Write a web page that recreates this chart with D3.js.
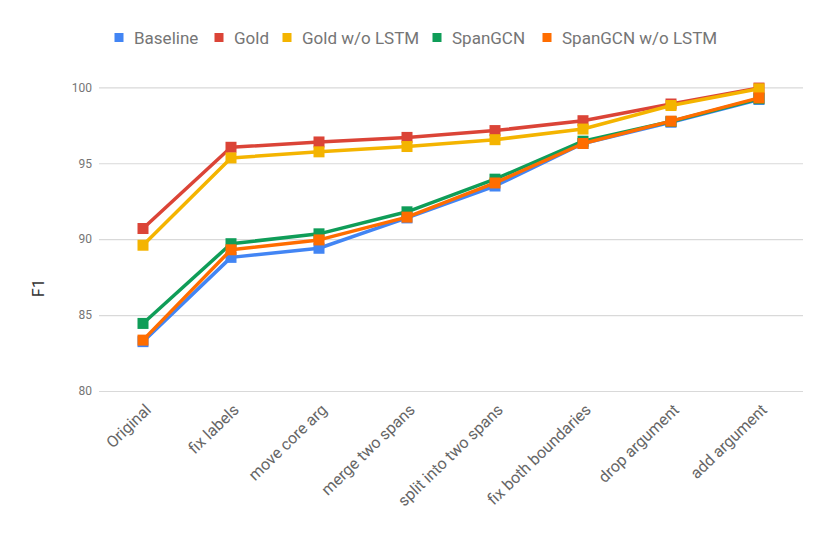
<!DOCTYPE html>
<html><head><meta charset="utf-8">
<script src="https://cdn.jsdelivr.net/npm/d3@7"></script>
<style>body{margin:0;background:#fff;font-family:Roboto,Arial,sans-serif}</style>
</head><body><svg id="c" width="830" height="536"></svg>
<script>
const categories = ["Original","fix labels","move core arg","merge two spans","split into two spans","fix both boundaries","drop argument","add argument"];
const seriesNames = ["Baseline","Gold","Gold w/o LSTM","SpanGCN","SpanGCN w/o LSTM"];
const baseline     = [83.25, 88.8, 89.4, 91.4, 93.5, 96.3, 97.7, 99.2];
const gold         = [90.7, 96.05, 96.4, 96.7, 97.15, 97.8, 98.9, 99.95];
const goldNoLSTM   = [89.6, 95.35, 95.75, 96.1, 96.55, 97.25, 98.8, 99.9];
const spanGCN      = [84.45, 89.7, 90.35, 91.8, 93.95, 96.45, 97.75, 99.25];
const spanGCNNoLSTM= [83.35, 89.3, 89.95, 91.45, 93.7, 96.3, 97.77, 99.3];
const colors = ["#4285F4","#DB4437","#F4B400","#0F9D58","#FF6D00"];
const yTicks = [80,85,90,95,100];

const data = [baseline, gold, goldNoLSTM, spanGCN, spanGCNNoLSTM];
const svg = d3.select("#c");
const x = d3.scaleBand().domain(categories).range([99, 803]);
const y = d3.scaleLinear().domain([80,100]).range([391, 87.3]);
const cx = c => x(c) + x.bandwidth()/2;

// gridlines
const yAxis = d3.axisLeft(y).tickValues(yTicks).tickSize(-(803-99)).tickPadding(7);
const gy = svg.append("g").attr("transform","translate(99,0)").call(yAxis);
gy.select(".domain").remove();
gy.selectAll(".tick line").attr("stroke","#d9d9d9").attr("stroke-width",1.2);
gy.selectAll(".tick text").attr("fill","#757575").style("font-size","12px").style("font-family","Roboto");

// x axis labels
const xAxis = d3.axisBottom(x).tickSize(0).tickPadding(0);
const gx = svg.append("g").attr("transform","translate(0,398)").call(xAxis);
gx.select(".domain").remove();
gx.selectAll(".tick text")
  .attr("fill","#666").style("font-size","16px").style("font-family","Roboto")
  .attr("text-anchor","end").attr("dy","0").attr("y",0)
  .attr("transform","translate(9,13) rotate(-44)");

// y title
svg.append("text").attr("transform","translate(44,288) rotate(-90)")
  .attr("text-anchor","middle").attr("fill","#333").style("font-size","16px").text("F1");

// series
const line = d3.line().x((d,i)=>cx(categories[i])).y(d=>y(d));
data.forEach((vals, si) => {
  const g = svg.append("g");
  g.append("path").datum(vals).attr("d", line).attr("fill","none")
    .attr("stroke", colors[si]).attr("stroke-width",3.5).attr("stroke-linejoin","round");
  g.selectAll("rect").data(vals).join("rect")
    .attr("x",(d,i)=>cx(categories[i])-5.5).attr("y",d=>y(d)-5.5)
    .attr("width",11).attr("height",11).attr("fill",colors[si]);
});

// legend
const legendX = [119, 219, 287, 437, 547];
const lg = svg.append("g");
seriesNames.forEach((n,i)=>{
  lg.append("rect").attr("x",legendX[i]-4.5).attr("y",33).attr("width",9).attr("height",9).attr("fill",colors[i]);
  lg.append("text").attr("x",legendX[i]+15).attr("y",43.5).attr("fill","#757575")
    .style("font-size","17px").text(n);
});
</script></body></html>
